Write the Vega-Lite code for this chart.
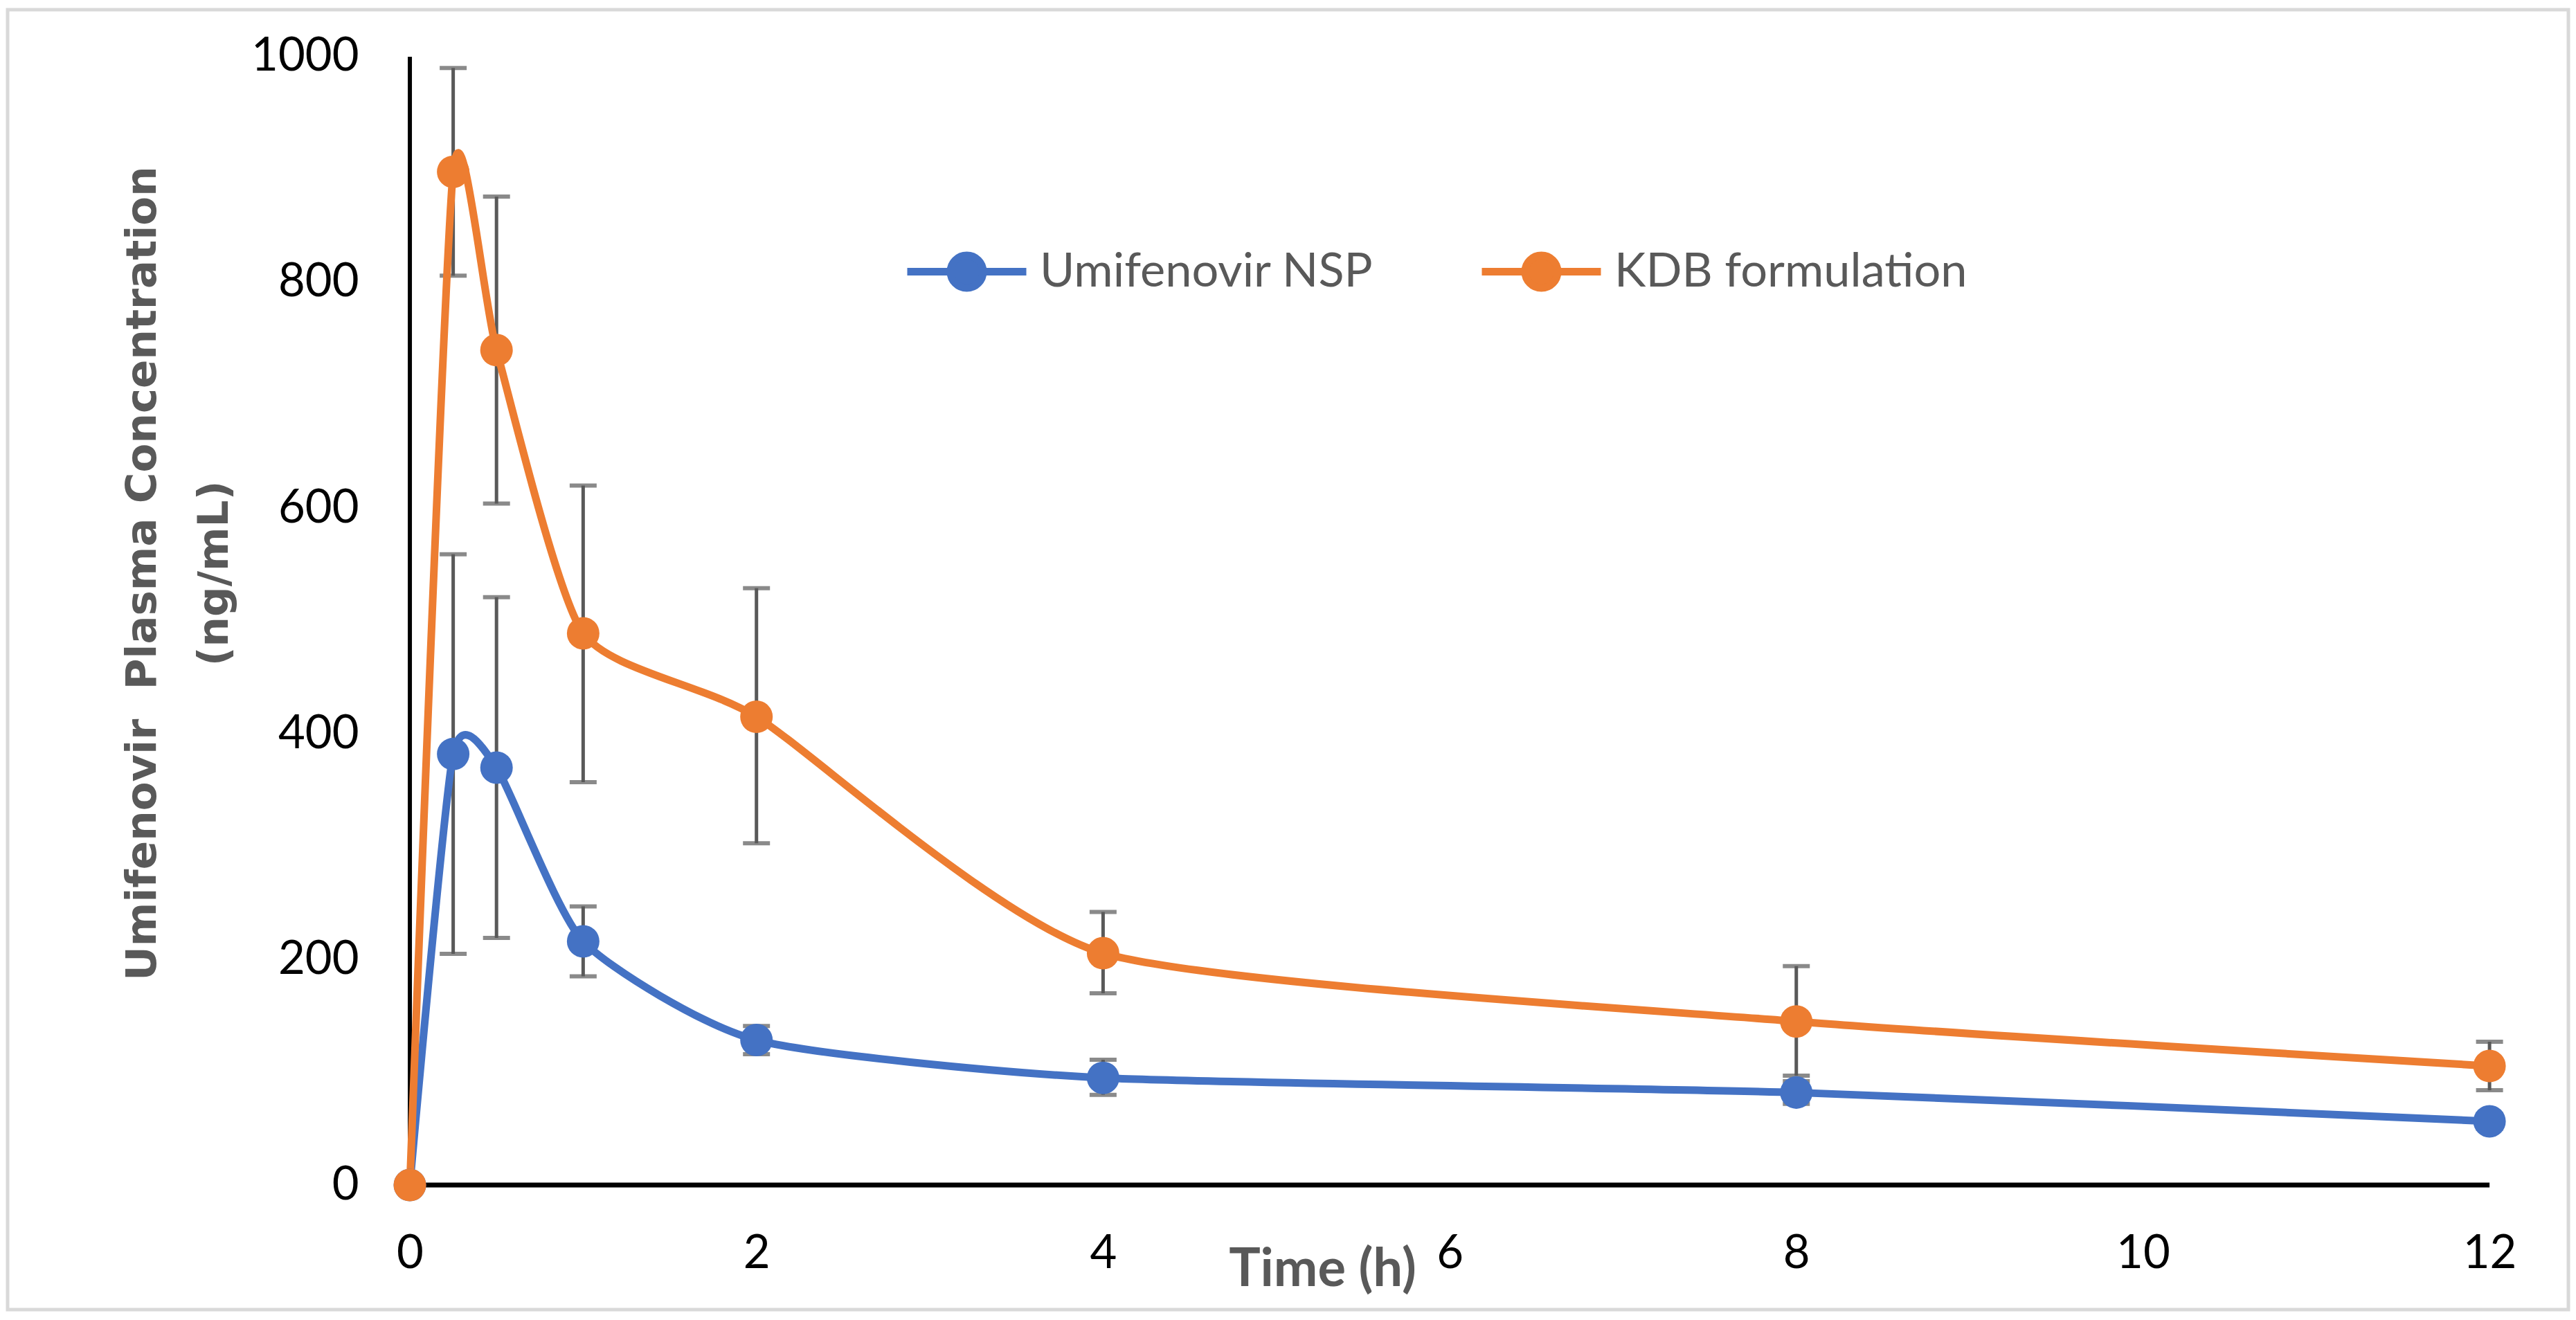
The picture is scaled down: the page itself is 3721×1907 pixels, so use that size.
{
  "$schema": "https://vega.github.io/schema/vega-lite/v6.json",
  "width": 3699,
  "height": 1878,
  "autosize": {"type": "none"},
  "padding": {"left": 11, "top": 14, "right": 11, "bottom": 15},
  "background": "#ffffff",
  "config": {"view": {"stroke": "#D9D9D9", "strokeWidth": 5}},
  "datasets": {
    "pk": [
      {"series": "Umifenovir NSP", "t": 0, "mean": 0, "lo": null, "hi": null},
      {"series": "Umifenovir NSP", "t": 0.25, "mean": 382, "lo": 205, "hi": 559},
      {"series": "Umifenovir NSP", "t": 0.5, "mean": 370, "lo": 219, "hi": 521},
      {"series": "Umifenovir NSP", "t": 1, "mean": 216, "lo": 185, "hi": 247},
      {"series": "Umifenovir NSP", "t": 2, "mean": 128.5, "lo": 116, "hi": 141},
      {"series": "Umifenovir NSP", "t": 4, "mean": 95, "lo": 80, "hi": 111},
      {"series": "Umifenovir NSP", "t": 8, "mean": 82, "lo": 72, "hi": 92},
      {"series": "Umifenovir NSP", "t": 12, "mean": 56.5, "lo": 50, "hi": 63},
      {"series": "KDB formulation", "t": 0, "mean": 0, "lo": null, "hi": null},
      {"series": "KDB formulation", "t": 0.25, "mean": 898, "lo": 806, "hi": 990},
      {"series": "KDB formulation", "t": 0.5, "mean": 740, "lo": 604, "hi": 876},
      {"series": "KDB formulation", "t": 1, "mean": 489, "lo": 357, "hi": 620},
      {"series": "KDB formulation", "t": 2, "mean": 415, "lo": 303, "hi": 529},
      {"series": "KDB formulation", "t": 4, "mean": 205.5, "lo": 170, "hi": 242},
      {"series": "KDB formulation", "t": 8, "mean": 145, "lo": 97, "hi": 194},
      {"series": "KDB formulation", "t": 12, "mean": 105.5, "lo": 84, "hi": 127}
    ]
  },
  "data": {"name": "pk"},
  "layer": [
    {
      "data": {"values": [{}]},
      "mark": {"type": "rule", "color": "#000000", "strokeWidth": 6, "strokeCap": "butt"},
      "encoding": {
        "x": {"datum": 0, "type": "quantitative", "scale": {"domain": [-2.321, 12.455], "nice": false, "zero": false}},
        "y": {"datum": 0, "type": "quantitative", "scale": {"domain": [-110.4, 1041.7], "nice": false, "zero": false}},
        "y2": {"datum": 1000}
      }
    },
    {
      "data": {"values": [{}]},
      "mark": {"type": "rule", "color": "#000000", "strokeWidth": 7, "strokeCap": "butt"},
      "encoding": {
        "x": {"datum": 0, "type": "quantitative"},
        "x2": {"datum": 12},
        "y": {"datum": 0, "type": "quantitative"}
      }
    },
    {
      "transform": [{"filter": "isValid(datum.lo)"}],
      "mark": {"type": "errorbar", "color": "#595959", "ticks": {"size": 39, "thickness": 6, "color": "#595959"}, "rule": {"strokeWidth": 5, "color": "#595959"}},
      "encoding": {
        "x": {"field": "t", "type": "quantitative", "title": "Time (h)"},
        "y": {"field": "lo", "type": "quantitative", "title": ["Umifenovir\u00a0 Plasma Concentration", "(ng/mL)"]},
        "y2": {"field": "hi"}
      }
    },
    {
      "mark": {"type": "line", "interpolate": "cardinal", "tension": 0.4, "strokeWidth": 11},
      "encoding": {
        "x": {
          "field": "t", "type": "quantitative",
          "axis": {
            "values": [0, 2, 4, 6, 8, 10, 12], "format": "d", "offset": -180, "domain": false, "ticks": false, "tickSize": 0, "grid": false,
            "labelPadding": 66, "labelFont": "Lato", "labelFontSize": 67, "labelColor": "#000000", "labelFlush": false, "labelOverlap": false,
            "title": "Time (h)", "titleFont": "Lato", "titleFontSize": 76, "titleFontWeight": "bold", "titleColor": "#595959",
            "titleX": 1899, "titleY": 145, "titleAlign": "center", "titleBaseline": "alphabetic"
          }
        },
        "y": {
          "field": "mean", "type": "quantitative",
          "axis": {
            "values": [0, 200, 400, 600, 800, 1000], "format": "d", "offset": -581, "domain": false, "ticks": false, "tickSize": 0, "grid": false,
            "labelPadding": 74, "labelFont": "Lato", "labelFontSize": 67, "labelColor": "#000000", "labelFlush": false, "labelOverlap": false,
            "title": ["Umifenovir\u00a0 Plasma Concentration", "(ng/mL)"], "titleFont": "DejaVu Sans", "titleFontSize": 61, "titleFontWeight": "bold", "titleColor": "#595959",
            "titleX": -368, "titleY": 814, "titleAngle": 270, "titleAlign": "center", "titleBaseline": "alphabetic", "titleLineHeight": 104
          }
        },
        "color": {
          "field": "series", "type": "nominal",
          "scale": {"domain": ["Umifenovir NSP", "KDB formulation"], "range": ["#4472C4", "#ED7D31"]},
          "legend": {
            "orient": "none", "legendX": 1294, "legendY": 287, "direction": "horizontal", "title": null,
            "symbolType": "M-1,0L1,0M0.273,0A0.273,0.273,0,1,1,-0.273,0A0.273,0.273,0,1,1,0.273,0Z",
            "symbolSize": 29584, "symbolStrokeWidth": 11,
            "labelFont": "Lato", "labelFontSize": 68.5, "labelColor": "#595959", "labelOffset": 14, "labelLimit": 0,
            "columnPadding": 133, "padding": 0,
            "encode": {"symbols": {"update": {"fill": {"scale": "color", "field": "value"}, "stroke": {"scale": "color", "field": "value"}, "opacity": {"value": 1}}}}
          }
        }
      }
    },
    {
      "mark": {"type": "point", "filled": true, "size": 2209, "opacity": 1},
      "encoding": {
        "x": {"field": "t", "type": "quantitative"},
        "y": {"field": "mean", "type": "quantitative"},
        "color": {"field": "series", "type": "nominal", "legend": null}
      }
    }
  ]
}
